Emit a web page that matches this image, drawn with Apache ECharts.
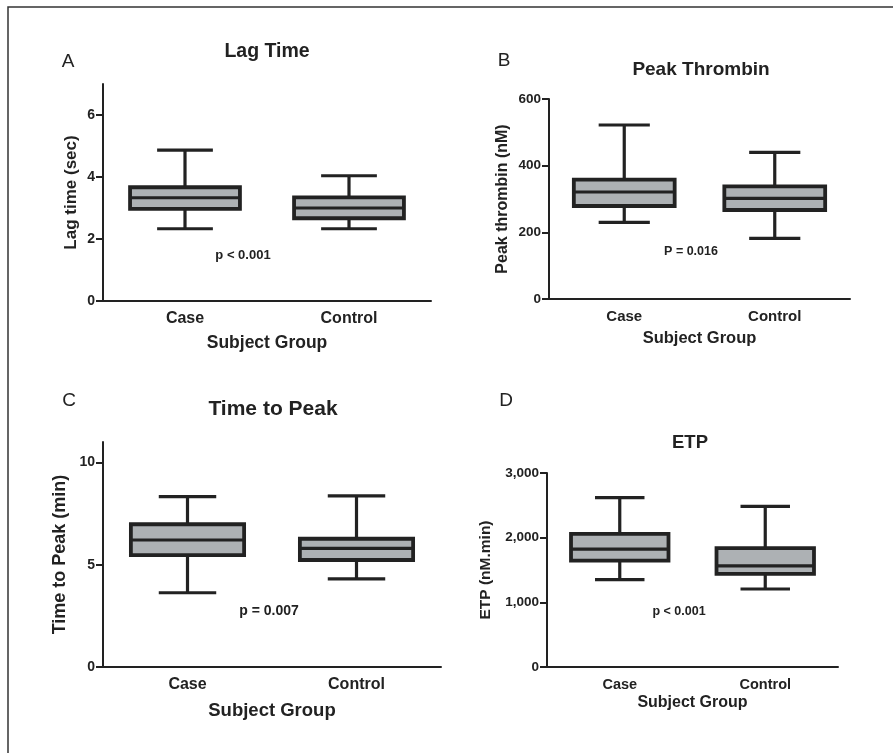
<!DOCTYPE html>
<html>
<head>
<meta charset="utf-8">
<script src="https://cdn.jsdelivr.net/npm/echarts@6/dist/echarts.min.js"></script>
<style>html,body{margin:0;padding:0;background:#fff}#c{width:893px;height:753px}</style>
</head>
<body>
<div id="c"></div>
<script>
// ---- data ----
const categories = ['Case', 'Control'];
// [low whisker, Q1, median, Q3, high whisker]
const lagCase = [2.33, 2.97, 3.33, 3.67, 4.87];
const lagControl = [2.33, 2.67, 3.0, 3.34, 4.04];
const peakCase = [230, 279, 321, 358, 522];
const peakControl = [182, 267, 302, 338, 440];
const ttpCase = [3.63, 5.47, 6.21, 6.98, 8.33];
const ttpControl = [4.31, 5.23, 5.80, 6.27, 8.37];
const etpCase = [1351, 1646, 1822, 2060, 2619];
const etpControl = [1206, 1439, 1563, 1838, 2484];
const lagTicks = [0, 2, 4, 6];
const peakTicks = [0, 200, 400, 600];
const ttpTicks = [0, 5, 10];
const etpTicks = [0, 1000, 2000, 3000];

const INK = '#222';
const FILL = '#adb1b4';
const FONT = '"Liberation Sans", Arial, sans-serif';

const panels = [
  {grid:{left:103, top:84, width:328, height:217}, max:7, ticks:lagTicks, data:[lagCase, lagControl],
   yName:'Lag time (sec)', yGap:23, yNameSize:17, tickSize:14, catSize:16, xName:'Subject Group', xGap:33, xNameSize:17.5, fmt:v=>String(v)},
  {grid:{left:549, top:99, width:301, height:200}, max:600, ticks:peakTicks, data:[peakCase, peakControl],
   yName:'Peak thrombin (nM)', yGap:38, yNameSize:16, tickSize:13.5, catSize:15, xName:'Subject Group', xGap:31, xNameSize:16.5, fmt:v=>String(v)},
  {grid:{left:103, top:442, width:338, height:225}, max:11, ticks:ttpTicks, data:[ttpCase, ttpControl],
   yName:'Time to Peak (min)', yGap:34, yNameSize:18, tickSize:14, catSize:16, xName:'Subject Group', xGap:34, xNameSize:18.5, fmt:v=>String(v)},
  {grid:{left:547, top:473, width:291, height:194}, max:3000, ticks:etpTicks, data:[etpCase, etpControl],
   yName:'ETP (nM.min)', yGap:53, yNameSize:15.5, tickSize:13.5, catSize:14.5, xName:'Subject Group', xGap:28, xNameSize:16, fmt:v=>v.toLocaleString('en-US')}
];

function renderBox(params, api) {
  const x = api.value(0);
  const lo = api.value(1), q1 = api.value(2), med = api.value(3), q3 = api.value(4), hi = api.value(5);
  const band = api.size([1, 0])[0];
  const bw = band * 0.67, cw = band * 0.34;
  const pLo = api.coord([x, lo]), pQ1 = api.coord([x, q1]), pMed = api.coord([x, med]),
        pQ3 = api.coord([x, q3]), pHi = api.coord([x, hi]);
  const cx = pLo[0];
  const ls = {stroke: INK, lineWidth: 3.2, fill: null};
  return {
    type: 'group',
    children: [
      {type:'line', shape:{x1:cx, y1:pHi[1], x2:cx, y2:pQ3[1]}, style:ls},
      {type:'line', shape:{x1:cx, y1:pQ1[1], x2:cx, y2:pLo[1]}, style:ls},
      {type:'line', shape:{x1:cx-cw/2, y1:pHi[1], x2:cx+cw/2, y2:pHi[1]}, style:ls},
      {type:'line', shape:{x1:cx-cw/2, y1:pLo[1], x2:cx+cw/2, y2:pLo[1]}, style:ls},
      {type:'rect', shape:{x:cx-bw/2, y:pQ3[1], width:bw, height:pQ1[1]-pQ3[1]}, style:{fill:FILL, stroke:INK, lineWidth:3.8}},
      {type:'line', shape:{x1:cx-bw/2, y1:pMed[1], x2:cx+bw/2, y2:pMed[1]}, style:ls}
    ]
  };
}

const grid = [], xAxis = [], yAxis = [], series = [];
panels.forEach((p, i) => {
  grid.push(Object.assign({containLabel:false}, p.grid));
  xAxis.push({
    type:'category', gridIndex:i, data:categories, boundaryGap:true,
    axisLine:{lineStyle:{color:INK, width:2}},
    axisTick:{alignWithLabel:true, length:6, lineStyle:{color:INK, width:2}},
    axisLabel:{color:INK, fontFamily:FONT, fontWeight:'bold', fontSize:p.catSize, margin:10},
    name:p.xName, nameLocation:'middle', nameGap:p.xGap,
    nameTextStyle:{color:INK, fontFamily:FONT, fontWeight:'bold', fontSize:p.xNameSize},
    splitLine:{show:false}
  });
  yAxis.push({
    type:'value', gridIndex:i, min:0, max:p.max,
    axisLine:{show:true, lineStyle:{color:INK, width:2}},
    axisTick:{show:true, length:7, customValues:p.ticks, lineStyle:{color:INK, width:2}},
    axisLabel:{color:INK, fontFamily:FONT, fontWeight:'bold', fontSize:p.tickSize, margin:8,
      customValues:p.ticks, formatter:p.fmt},
    splitLine:{show:false},
    name:p.yName, nameLocation:'middle', nameGap:p.yGap, nameRotate:90,
    nameTextStyle:{color:INK, fontFamily:FONT, fontWeight:'bold', fontSize:p.yNameSize}
  });
  series.push({
    type:'custom', xAxisIndex:i, yAxisIndex:i, renderItem:renderBox,
    encode:{x:0, y:[1,2,3,4,5]},
    data:p.data.map((d, k) => [k].concat(d)),
    silent:true, animation:false
  });
});

const txt = (text, x, y, size, weight) => ({
  type:'text', x:x, y:y,
  style:{text:text, fill:INK, font:(weight||'bold') + ' ' + size + 'px ' + FONT, textAlign:'center', textVerticalAlign:'middle'}
});

const graphic = [
  {type:'rect', shape:{x:8, y:7, width:900, height:760}, style:{fill:null, stroke:'#333', lineWidth:1.5}},
  txt('A', 68, 62, 19, 'normal'), txt('B', 504, 61, 19, 'normal'),
  txt('C', 69, 401, 19, 'normal'), txt('D', 506, 401, 19, 'normal'),
  txt('Lag Time', 267, 52, 19.5), txt('Peak Thrombin', 701, 70, 19),
  txt('Time to Peak', 273, 409, 21), txt('ETP', 690, 443, 18.5),
  txt('p < 0.001', 243, 255, 13), txt('P = 0.016', 691, 252, 12.5),
  txt('p = 0.007', 269, 611, 14), txt('p < 0.001', 679, 612, 12.5)
];

const chart = echarts.init(document.getElementById('c'), null, {renderer:'canvas'});
chart.setOption({animation:false, backgroundColor:'#fff', grid, xAxis, yAxis, series, graphic});
</script>
</body>
</html>
